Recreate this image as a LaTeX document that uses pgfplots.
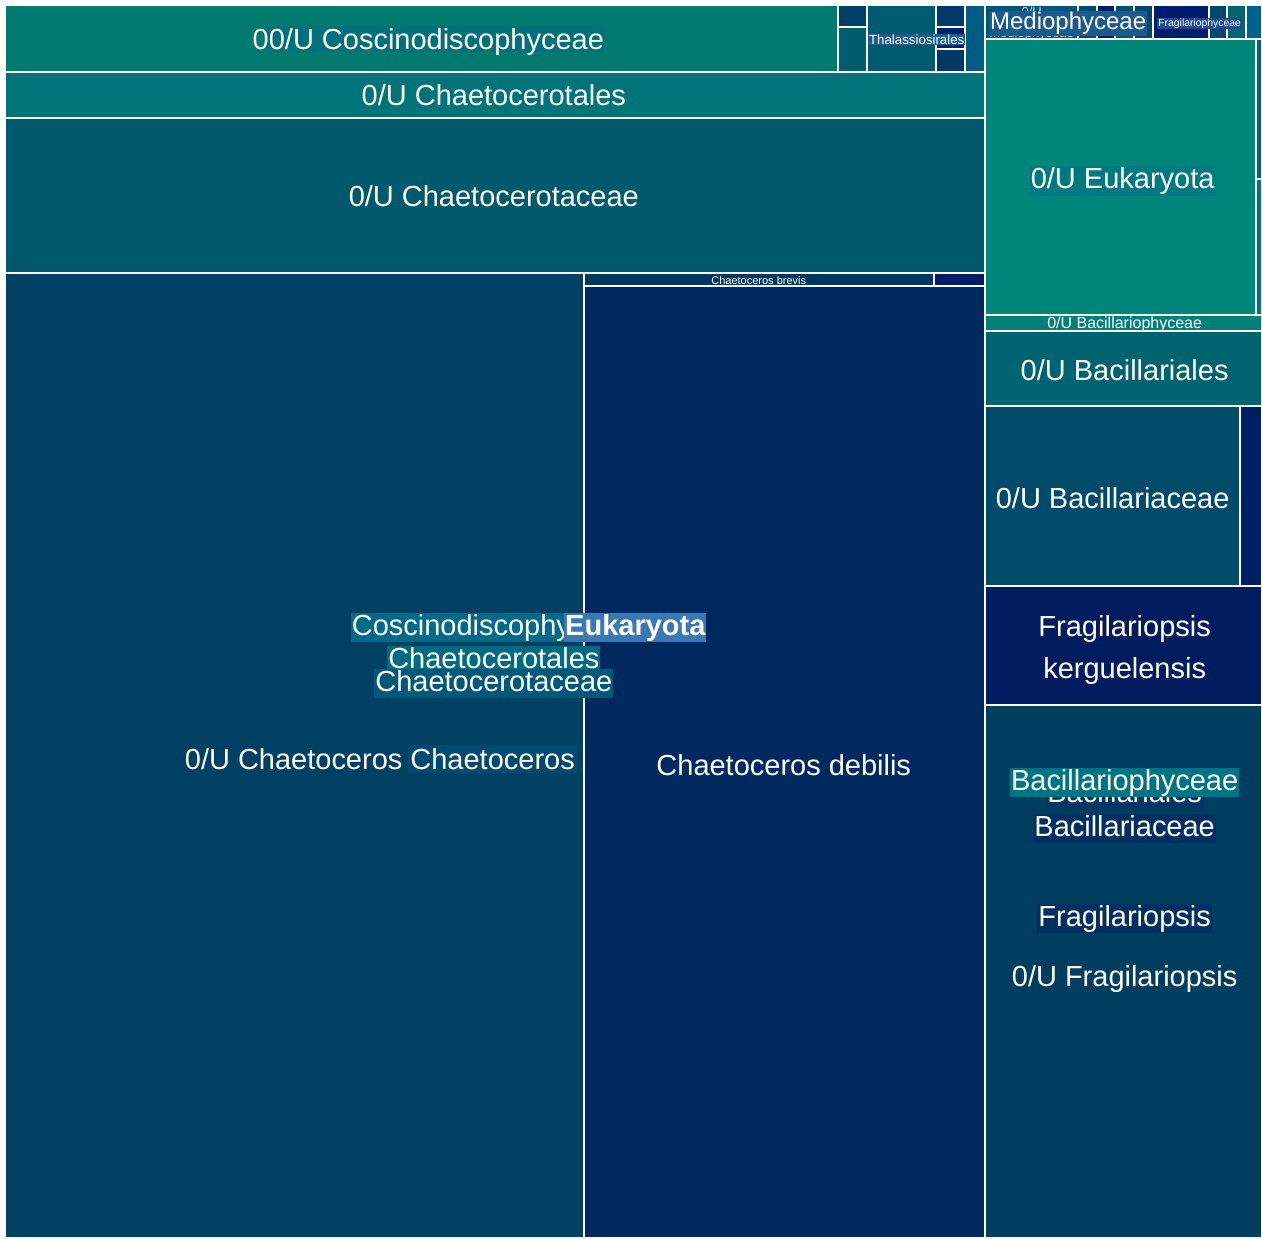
\documentclass[border=0pt]{standalone}
\usepackage{pgfplots}
\pgfplotsset{compat=1.18}
\usepackage{fontspec}
\setmainfont{Liberation Sans}

% tile colours
\definecolor{tCos}{HTML}{007A6E}
\definecolor{tA}{HTML}{003E6C}
\definecolor{tB}{HTML}{005E6C}
\definecolor{tThal}{HTML}{005A70}
\definecolor{tC}{HTML}{00396C}
\definecolor{tD}{HTML}{001F6E}
\definecolor{tE}{HTML}{003866}
\definecolor{tF}{HTML}{005C82}
\definecolor{tOrd}{HTML}{007478}
\definecolor{tFam}{HTML}{005A6C}
\definecolor{tGen}{HTML}{004062}
\definecolor{tBrev}{HTML}{00365F}
\definecolor{tBrevB}{HTML}{001E66}
\definecolor{tDeb}{HTML}{002960}
\definecolor{tMed}{HTML}{005678}
\definecolor{tR1}{HTML}{004A70}
\definecolor{tR2}{HTML}{001A6E}
\definecolor{tR3}{HTML}{005275}
\definecolor{tR4}{HTML}{00456E}
\definecolor{tFragc}{HTML}{001C6E}
\definecolor{tR5}{HTML}{00486B}
\definecolor{tR6}{HTML}{006670}
\definecolor{tR7}{HTML}{00628F}
\definecolor{tEuk}{HTML}{00857A}
\definecolor{tS1}{HTML}{00628A}
\definecolor{tS2}{HTML}{007580}
\definecolor{tBcl}{HTML}{008078}
\definecolor{tBal}{HTML}{006470}
\definecolor{tBac}{HTML}{004A6A}
\definecolor{tBacB}{HTML}{001E64}
\definecolor{tKer}{HTML}{001C5F}
\definecolor{tFra}{HTML}{003E60}

% label backgrounds
\definecolor{bCos}{HTML}{00707A}
\definecolor{bCos2}{HTML}{006A88}
\definecolor{bEuk}{HTML}{3A78B4}
\definecolor{bOrd}{HTML}{006B80}
\definecolor{bFam}{HTML}{005878}
\definecolor{bGen}{HTML}{004A70}
\definecolor{bThal}{HTML}{1E5C8A}
\definecolor{bMed}{HTML}{1A5A8C}
\definecolor{bFrc}{HTML}{1E4A8C}
\definecolor{bEuk2}{HTML}{007A80}
\definecolor{bBcl}{HTML}{007385}
\definecolor{bBal}{HTML}{003565}
\definecolor{bBac}{HTML}{003062}

% one tile: x0 y0 x1 y1 colour (pixel units of the reference)
\newcommand{\tile}[5]{\addplot[fill=#5, draw=white, line width=0.4pt] coordinates {(#1,#2) (#3,#2) (#3,#4) (#1,#4)} -- cycle;}

\begin{document}
\begin{tikzpicture}[
    lbl/.style={text=white, inner sep=0.5pt, font=\fontsize{14.5}{17}\selectfont,
                text height=10.6pt, text depth=3pt, yshift=-1.5pt},
    sml/.style={text=white, inner sep=0.5pt, yshift=-0.7pt},
]
\begin{axis}[
    width=631pt, height=619pt, scale only axis,
    xmin=0, xmax=1262, ymin=0, ymax=1238,
    y dir=reverse, hide axis, clip=false,
]
\addplot[draw=none] coordinates {(0,0) (1262,1238)};

% Coscinodiscophyceae side
\tile{5}{5}{838}{71}{tCos}
\tile{839}{5}{867}{26}{tA}
\tile{839}{27}{867}{71}{tB}
\tile{868}{5}{936}{71}{tThal}
\tile{937}{5}{965}{26}{tC}
\tile{937}{27}{965}{48}{tD}
\tile{937}{49}{965}{71}{tE}
\tile{966}{5}{985}{71}{tF}
\tile{5}{72}{985}{117}{tOrd}
\tile{5}{118}{985}{272}{tFam}
\tile{5}{273}{584}{1238}{tGen}
\tile{585}{273}{934}{285}{tBrev}
\tile{935}{273}{985}{285}{tBrevB}
\tile{585}{286}{985}{1238}{tDeb}

% right side
\tile{986}{5}{1078}{38}{tMed}
\tile{1079}{5}{1097}{38}{tR1}
\tile{1098}{5}{1115}{38}{tR2}
\tile{1116}{5}{1134}{38}{tR3}
\tile{1135}{5}{1153}{38}{tR4}
\tile{1154}{5}{1209}{38}{tFragc}
\tile{1210}{5}{1227}{38}{tR5}
\tile{1228}{5}{1246}{38}{tR6}
\tile{1247}{5}{1262}{38}{tR7}
\tile{986}{39}{1256}{314}{tEuk}
\tile{1257}{39}{1262}{178}{tS1}
\tile{1257}{179}{1262}{314}{tS2}
\tile{986}{315}{1262}{330}{tBcl}
\tile{986}{331}{1262}{406}{tBal}
\tile{986}{407}{1240}{586}{tBac}
\tile{1241}{407}{1262}{586}{tBacB}
\tile{986}{587}{1262}{705}{tKer}
\tile{986}{706}{1262}{1238}{tFra}

% labels
\node[fill=bCos, minimum width=168.5pt, minimum height=13pt, inner sep=0pt] at (435.5,39) {};
\node[lbl] at (428.5,39) {00/U Coscinodiscophyceae};
\node[lbl] at (494,95) {0/U Chaetocerotales};
\node[lbl] at (494,196) {0/U Chaetocerotaceae};

\node[lbl, fill=bCos2] at (493,625) {Coscinodiscophyceae};
\node[lbl, fill=bEuk, minimum width=70.5pt] at (635.5,625) {\bfseries Eukaryota};
\node[lbl, fill=bOrd] at (494,658) {Chaetocerotales};
\node[lbl, fill=bFam] at (494,681) {Chaetocerotaceae};

\node[fill=bGen, minimum width=84.5pt, minimum height=14pt, inner sep=0pt] at (492.5,759) {};
\node[lbl] at (380,759) {0/U Chaetoceros Chaetoceros};
\node[lbl] at (784,765) {Chaetoceros debilis};
\node[sml, font=\fontsize{5.5}{6}\selectfont] at (759,279.5) {Chaetoceros brevis};
\node[sml, fill=bThal, font=\fontsize{6.65}{8}\selectfont] at (917,38) {Thalassiosirales};

\node[sml, text=white!80!tMed, font=\fontsize{6.5}{7}\selectfont] at (1032,10) {0/U};
\node[sml, text=white!80!tMed, font=\fontsize{6.5}{7}\selectfont] at (1032,33) {Mediophyceae};
\node[sml, fill=bMed, font=\fontsize{12}{14}\selectfont] at (1068.5,22) {Mediophyceae};
\node[sml, fill=bFrc, font=\fontsize{5.2}{6}\selectfont] at (1200,22) {Fragilariophyceae};

\node[lbl, fill=bEuk2] at (1123,178) {0/U Eukaryota};
\node[sml, font=\fontsize{8}{9}\selectfont] at (1125,323) {0/U Bacillariophyceae};
\node[lbl] at (1125,370) {0/U Bacillariales};
\node[lbl] at (1113,498) {0/U Bacillariaceae};
\node[lbl] at (1125,626) {Fragilariopsis};
\node[lbl] at (1125,668) {kerguelensis};

\node[lbl, fill=bBal] at (1125,792) {Bacillariales};
\node[lbl, fill=bBcl] at (1125,780) {Bacillariophyceae};
\node[lbl, fill=bBac] at (1125,826) {Bacillariaceae};
\node[lbl, fill=bBac] at (1125,916) {Fragilariopsis};
\node[lbl] at (1125,976) {0/U Fragilariopsis};
\end{axis}
\end{tikzpicture}
\end{document}
